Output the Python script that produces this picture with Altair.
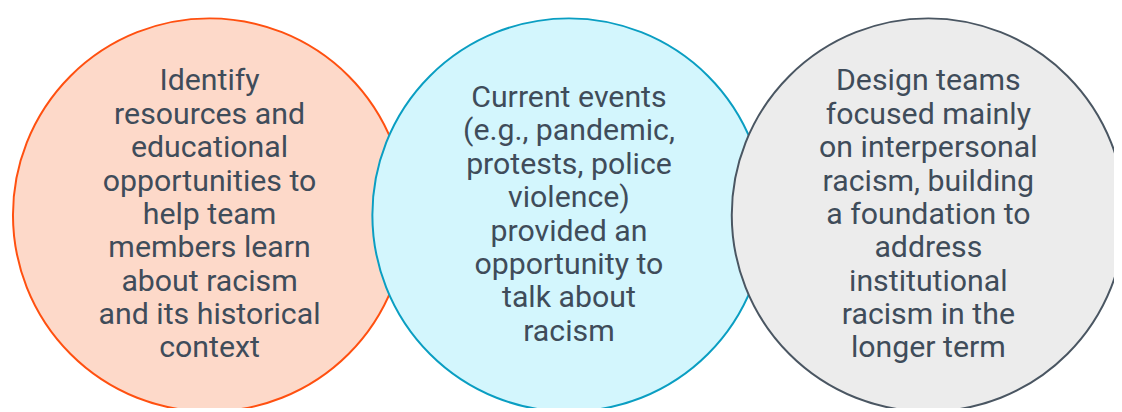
import altair as alt
import pandas as pd

# Three themes shown as overlapping circles
topics = ["Resources", "Current events", "Design"]
labels = [
    ["Identify", "resources and", "educational", "opportunities to", "help team",
     "members learn", "about racism", "and its historical", "context"],
    ["Current events", "(e.g., pandemic,", "protests, police", "violence)",
     "provided an", "opportunity to", "talk about", "racism"],
    ["Design teams", "focused mainly", "on interpersonal", "racism, building",
     "a foundation to", "address", "institutional", "racism in the", "longer term"],
]

# styles
fill_colors = ["#fdd9c9", "#d3f6fd", "#ececec"]
stroke_colors = ["#ff5010", "#0a9ec2", "#4a5662"]
text_color = "#3f4c5a"

circle_df = pd.DataFrame({"topic": topics})

rows = []
for topic, lines in zip(topics, labels):
    n = len(lines)
    for i, line in enumerate(lines):
        rows.append({"topic": topic, "line": line, "row": i - (n - 1) / 2})
text_df = pd.DataFrame(rows)

line_h = 33.6
cy = 207
xscale = alt.Scale(type="point", domain=topics, range=[203, 927], padding=0)
yscale = alt.Scale(domain=[-6, 6], range=[cy - 6 * line_h, cy + 6 * line_h])

circles = alt.Chart(circle_df).mark_circle(size=396 * 396, opacity=1, strokeWidth=2).encode(
    x=alt.X("topic:N", scale=xscale, axis=None, sort=topics),
    y=alt.Y(datum=0, scale=yscale, axis=None),
    fill=alt.Fill("topic:N", scale=alt.Scale(domain=topics, range=fill_colors), legend=None),
    stroke=alt.Stroke("topic:N", scale=alt.Scale(domain=topics, range=stroke_colors), legend=None),
)

text = alt.Chart(text_df).mark_text(
    font="Roboto",
    fontSize=30.5,
    align="center",
    baseline="middle",
    color=text_color,
).encode(
    x=alt.X("topic:N", scale=xscale, axis=None, sort=topics),
    y=alt.Y("row:Q", scale=yscale, axis=None),
    text="line:N",
)

chart = (
    (circles + text)
    .properties(width=1114, height=400, autosize=alt.AutoSizeParams(type="none"), padding=0)
    .configure_view(stroke=None)
)

chart.save("out.html", embed_options={"renderer": "svg", "actions": False})
